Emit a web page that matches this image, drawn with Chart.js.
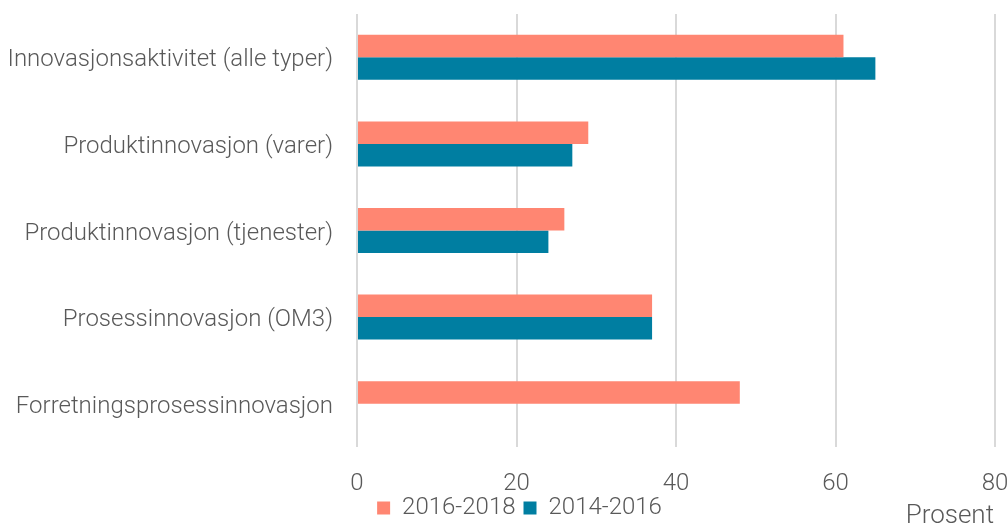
<!DOCTYPE html>
<html>
<head>
<meta charset="utf-8">
<script src="https://cdn.jsdelivr.net/npm/chart.js@4"></script>
<style>
  html, body { margin: 0; padding: 0; background: #fff; }
  #wrap { width: 1008px; height: 525px; }
</style>
</head>
<body>
<div id="wrap"><canvas id="barChart"></canvas></div>
<script>
const categories = [
    "Innovasjonsaktivitet (alle typer)",
    "Produktinnovasjon (varer)",
    "Produktinnovasjon (tjenester)",
    "Prosessinnovasjon (OM3)",
    "Forretningsprosessinnovasjon"
];
const values2016_2018 = [61, 29, 26, 37, 48];
const values2014_2016 = [65, 27, 24, 37, null];
const xTicks = [0, 20, 40, 60, 80];

const textColor = "#595959";
const font = { family: "Roboto", weight: "300", size: 24 };

// legend nudged, "Prosent" drawn in the bottom right corner
const axisNote = {
    id: "axisNote",
    afterLayout(chart) {
        chart.legend.left += 22;
        chart.legend.right += 22;
        chart.legend.top += 5;
        chart.legend.bottom += 5;
        // let the x tick labels reach below the scale box without clipping
        chart.scales.x.bottom += 12;
    },
    afterDraw(chart) {
        const ctx = chart.ctx;
        ctx.save();
        ctx.font = "300 26px Roboto";
        ctx.fillStyle = textColor;
        ctx.textAlign = "right";
        ctx.textBaseline = "alphabetic";
        ctx.fillText("Prosent", chart.chartArea.right - 1, 523);
        ctx.restore();
    }
};

new Chart(document.getElementById("barChart"), {
    type: "bar",
    data: {
        labels: categories,
        datasets: [{
            label: "2016-2018",
            data: values2016_2018,
            backgroundColor: "#FF8672"
        }, {
            label: "2014-2016",
            data: values2014_2016,
            backgroundColor: "#007EA1"
        }]
    },
    options: {
        indexAxis: "y",
        responsive: true,
        maintainAspectRatio: false,
        animation: false,
        datasets: { bar: { categoryPercentage: 0.52, barPercentage: 1 } },
        layout: { padding: { top: 14, right: 13, left: 0, bottom: 0 } },
        scales: {
            x: {
                min: 0,
                max: 80,
                afterBuildTicks: s => { s.ticks = xTicks.map(v => ({ value: v })); },
                grid: { color: "#D9D9D9", lineWidth: 2, drawTicks: false },
                border: { display: false },
                ticks: { color: textColor, font: font, padding: 23 },
                afterFit: s => { s.height = 36; s.paddingLeft = 0; s.paddingRight = 0; }
            },
            y: {
                grid: { display: false, drawTicks: false },
                border: { display: false },
                ticks: { color: textColor, font: font, padding: 24, labelOffset: 3 },
                afterFit: s => { s.width = 357; s.paddingTop = 0; s.paddingBottom = 0; }
            }
        },
        plugins: {
            legend: {
                position: "bottom",
                labels: {
                    color: textColor,
                    font: font,
                    boxWidth: 13,
                    boxHeight: 13,
                    padding: 8
                }
            },
            tooltip: { enabled: false }
        }
    },
    plugins: [axisNote]
});
</script>
</body>
</html>
